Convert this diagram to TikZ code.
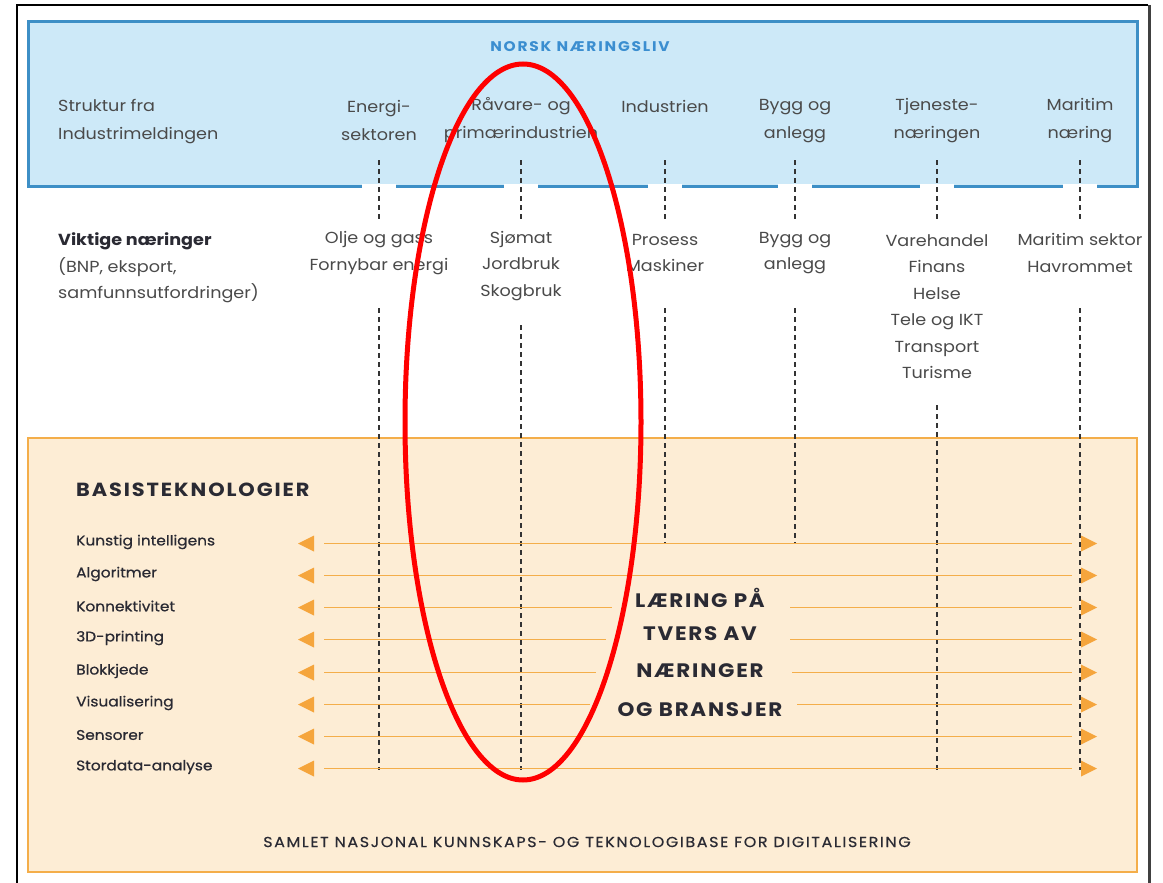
\documentclass[tikz,border=0pt]{standalone}
\usepackage{fontspec}
\setmainfont{Poppins}[FakeStretch=1.1]
\newfontfamily\techfont{Poppins}[FakeStretch=1.1, FakeBold=0.6]
\newfontfamily\titlefont{Poppins}[FakeStretch=1.1, LetterSpace=13]
\newfontfamily\basisfont{Poppins}[FakeStretch=1.1, LetterSpace=10]
\newfontfamily\midfont{Poppins}[FakeStretch=1.1, LetterSpace=9]
\newfontfamily\bottomfont{Poppins}[FakeStretch=1.1, LetterSpace=11, FakeBold=0.5]
\definecolor{bluefill}{HTML}{CDE9F8}
\definecolor{blueline}{HTML}{3D8FC6}
\definecolor{bluetext}{HTML}{3B8ED0}
\definecolor{orfill}{HTML}{FDEDD5}
\definecolor{orline}{HTML}{F4AE4A}
\definecolor{orarrow}{HTML}{F5A53C}
\definecolor{txt}{HTML}{4A4A4A}
\definecolor{darktxt}{HTML}{2A2A33}
\definecolor{dashcol}{HTML}{333333}
\tikzset{
  colhead/.style={font=\fontsize{16}{28}\selectfont, text=txt, align=center, inner sep=0pt, anchor=center},
  lefthead/.style={font=\fontsize{16}{28}\selectfont, text=txt, align=left, inner sep=0pt, anchor=west},
  content/.style={font=\fontsize{16}{26.5}\selectfont, text=txt, align=center, inner sep=0pt, anchor=center},
  techlabel/.style={font=\techfont\fontsize{14}{16}\selectfont, text=darktxt, inner sep=0pt, anchor=west},
  midtext/.style={font=\midfont\bfseries\fontsize{19.5}{22}\selectfont, text=darktxt, inner sep=0pt, anchor=center},
  vdash/.style={draw=dashcol, line width=1.5pt, dash pattern=on 5pt off 4pt},
  techline/.style={draw=orline, line width=1.7pt},
  tip/.style={fill=orarrow}
}
\begin{document}
\begin{tikzpicture}[x=1pt,y=-1pt]
\useasboundingbox (0,0) rectangle (1163,883);
\fill[white] (0,0) rectangle (1163,883);
% outer frame
\draw[black, line width=1.2pt] (17,890) -- (17,5) -- (1148,5);
\draw[black!75, line width=3pt] (1149,5) -- (1149,890);
% blue box
\draw[blueline, line width=3pt, fill=bluefill] (28,22) rectangle (1137,186);
\foreach \x in {379,521,665,795,937,1080} {
  \fill[white] (\x-17,184.4) rectangle (\x+17,188.5);
}
% orange box
\draw[orline, line width=2.5pt, fill=orfill] (28,438) rectangle (1137,872);

% header
\node[font=\titlefont\bfseries\fontsize{14}{16}\selectfont, text=bluetext, inner sep=0pt] (title) at (580,47) {NORSK NÆRINGSLIV};
\node[lefthead] (struct) at (58,121.5) {Struktur fra\\Industrimeldingen};
\node[colhead] (hE) at (379,120) {Energi-\\sektoren};
\node[colhead] (hR) at (521,120) {Råvare- og\\primærindustrien};
\node[colhead] (hI) at (665,120) {Industrien\\\phantom{X}};
\node[colhead] (hB) at (795,121) {Bygg og\\anlegg};
\node[colhead] (hT) at (937,121) {Tjeneste-\\næringen};
\node[colhead] (hM) at (1080,121) {Maritim\\næring};

% important industries
\node[lefthead, font=\fontsize{16}{26.5}\selectfont] (vikt) at (58,268) {\textbf{\color{darktxt}Viktige næringer}\\(BNP, eksport,\\samfunnsutfordringer)};
\node[content] (cE) at (379,253) {Olje og gass\\Fornybar energi};
\node[content] (cR) at (521,266) {Sjømat\\Jordbruk\\Skogbruk};
\node[content] (cI) at (665,253) {Prosess\\Maskiner};
\node[content] (cB) at (795,253) {Bygg og\\anlegg};
\node[content] (cT) at (937,306.5) {Varehandel\\Finans\\Helse\\Tele og IKT\\Transport\\Turisme};
\node[content] (cM) at (1080,253) {Maritim sektor\\Havrommet};

% dashed line coordinates
\foreach \n/\x/\s/\e in {E/379/308/770, R/521/325/770, I/665/308/543, B/795/308/543, T/937/405/770, M/1080/308/770} {
  \coordinate (u\n) at (\x,160);
  \coordinate (m\n) at (\x,220);
  \coordinate (s\n) at (\x,\s);
  \coordinate (e\n) at (\x,\e);
}
\foreach \n in {E,R,I,B,T,M} {
  \draw[vdash] (u\n) -- (m\n);
  \draw[vdash] (s\n) -- (e\n);
}

% base technologies
\node[font=\basisfont\bfseries\fontsize{19}{22}\selectfont, text=darktxt, inner sep=0pt, anchor=west] (basis) at (76,490) {BASISTEKNOLOGIER};
\foreach \i/\y/\t in {1/542/Kunstig intelligens, 2/574/Algoritmer, 3/606/Konnektivitet, 4/638/3D-printing, 5/671/Blokkjede, 6/703/Visualisering, 7/735/Sensorer, 8/767/Stordata-analyse} {
  \node[techlabel] (t\i) at (76,\y) {\t};
  \coordinate (la\i) at (324,\y+1.5);
  \coordinate (ra\i) at (1072,\y+1.5);
  \fill[tip] (298,\y+1.5) -- (314,\y-6.5) -- (314,\y+9.5) -- cycle;
  \fill[tip] (1097,\y+1.5) -- (1081,\y-6.5) -- (1081,\y+9.5) -- cycle;
}
\foreach \i in {1,2,7,8} { \draw[techline] (la\i) -- (ra\i); }
\foreach \i/\a/\b in {3/612/790, 4/606/790, 5/596/792, 6/590/797} {
  \draw[techline] (la\i) -- (\a,0 |- la\i);
  \draw[techline] (\b,0 |- la\i) -- (ra\i);
}
\node[midtext] (l1) at (700,598) {LÆRING PÅ};
\node[midtext] (l2) at (700,634) {TVERS AV};
\node[midtext] (l3) at (700,671) {NÆRINGER};
\node[midtext] (l4) at (700,710) {OG BRANSJER};

\node[font=\bottomfont\fontsize{14.5}{16}\selectfont, text=darktxt, inner sep=0pt] (samlet) at (587,842) {SAMLET NASJONAL KUNNSKAPS- OG TEKNOLOGIBASE FOR DIGITALISERING};

% red ellipse
\draw[red, line width=5pt] (523,422) ellipse [x radius=118, y radius=358];
\end{tikzpicture}
\end{document}
